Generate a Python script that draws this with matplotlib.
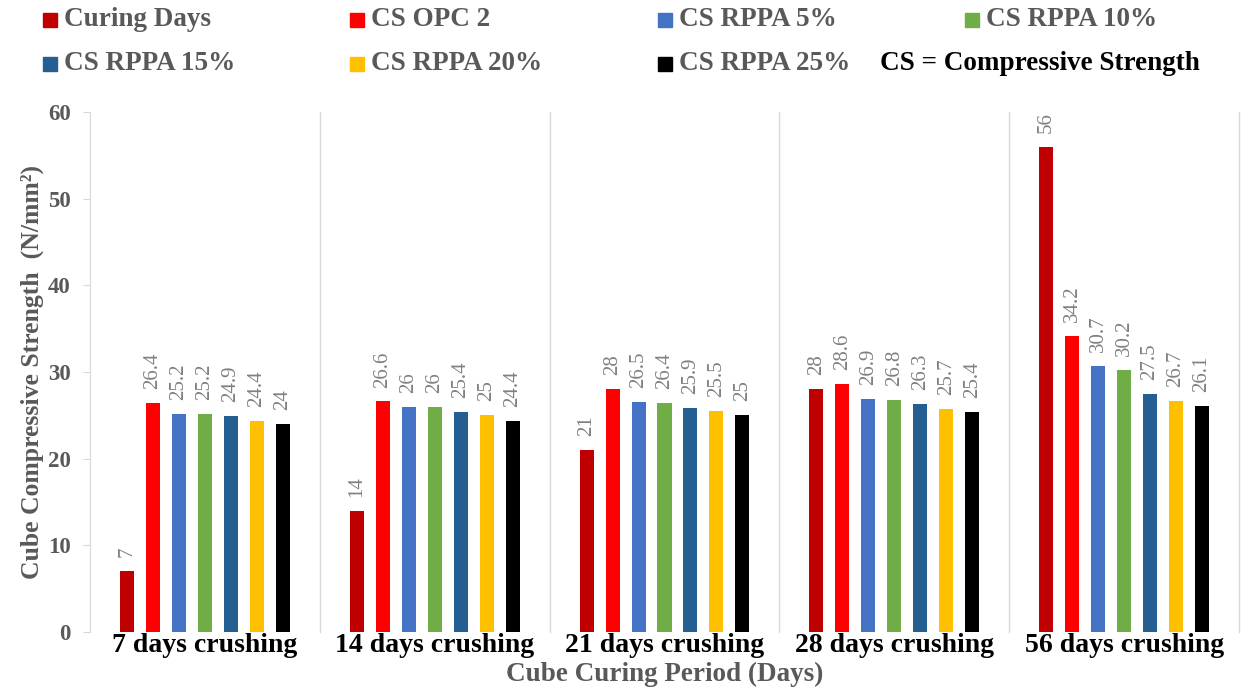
import numpy as np
import matplotlib.pyplot as plt
from matplotlib.patches import Rectangle

groups = ["7 days crushing", "14 days crushing", "21 days crushing",
          "28 days crushing", "56 days crushing"]
series = ["Curing Days", "CS OPC 2", "CS RPPA 5%", "CS RPPA 10%",
          "CS RPPA 15%", "CS RPPA 20%", "CS RPPA 25%"]
curing = [7, 14, 21, 28, 56]
opc2 = [26.4, 26.6, 28, 28.6, 34.2]
rppa5 = [25.2, 26, 26.5, 26.9, 30.7]
rppa10 = [25.2, 26, 26.4, 26.8, 30.2]
rppa15 = [24.9, 25.4, 25.9, 26.3, 27.5]
rppa20 = [24.4, 25, 25.5, 25.7, 26.7]
rppa25 = [24, 24.4, 25, 25.4, 26.1]
values = [curing, opc2, rppa5, rppa10, rppa15, rppa20, rppa25]
colors = ["#C00000", "#FF0000", "#4472C4", "#70AD47", "#255E91", "#FFC000", "#000000"]

serif = "Liberation Serif"
grey = "#595959"

W, H = 1241, 695
fig = plt.figure(figsize=(W / 100, H / 100), dpi=100)
ax = fig.add_axes([90 / W, 1 - 632 / H, 1149 / W, 520 / H])

x = np.arange(len(groups))
step, bw = 0.113, 0.061
for i, (vals, col) in enumerate(zip(values, colors)):
    pos = x + (i - 3) * step
    ax.bar(pos, vals, bw, color=col, zorder=3)
    for px, v in zip(pos, vals):
        ax.annotate(f"{v:g}", (px, v), xytext=(0, 10), textcoords="offset points",
                    rotation=90, ha="center", va="bottom", color="#808080",
                    fontsize=15, family=serif)

ax.set_xlim(-0.5, 4.5)
ax.set_ylim(0, 60)
ax.set_yticks(range(0, 61, 10))
for sp in ["top", "right", "bottom"]:
    ax.spines[sp].set_visible(False)
ax.spines["left"].set_color("#d9d9d9")
for b in np.arange(0.5, 4.6, 1):
    ax.axvline(b, color="#d9d9d9", lw=1, zorder=1, clip_on=False)
ax.tick_params(axis="y", colors="#d9d9d9", length=5, labelcolor=grey, labelsize=16.5, pad=9)
ax.tick_params(axis="x", length=0, pad=1)
ax.set_xticks(x)
ax.set_xticklabels(groups, fontsize=20, fontweight="bold", family=serif, color="black")
for t in ax.get_yticklabels():
    t.set_fontweight("bold")
    t.set_family(serif)
ax.set_xlabel("Cube Curing Period (Days)", fontsize=19.5, fontweight="bold",
              family=serif, color=grey)
ax.xaxis.set_label_coords(0.5, -0.058)
ax.set_ylabel("Cube Compressive Strength  (N/mm²)", fontsize=18.5,
              fontweight="bold", family=serif, color=grey)
ax.yaxis.set_label_coords(-46 / 1149, 0.5)

# legend laid out like the original (two rows of four)
sq_x = [43, 350, 658, 965]
row_y = [20, 64]
for k, (name, col) in enumerate(zip(series, colors)):
    r, c = divmod(k, 4)
    fig.patches.append(Rectangle((sq_x[c] / W, 1 - (row_y[r] + 7) / H), 14 / W, 14 / H,
                                 transform=fig.transFigure, color=col, figure=fig))
    fig.text((sq_x[c] + 21) / W, 1 - row_y[r] / H, name, fontsize=19.5, fontweight="bold",
             family=serif, color=grey, va="center")
fig.text(880 / W, 1 - row_y[1] / H, "CS = Compressive Strength", fontsize=19.5,
         fontweight="bold", family=serif, color="black", va="center")

fig.savefig("out.png", dpi=100)
